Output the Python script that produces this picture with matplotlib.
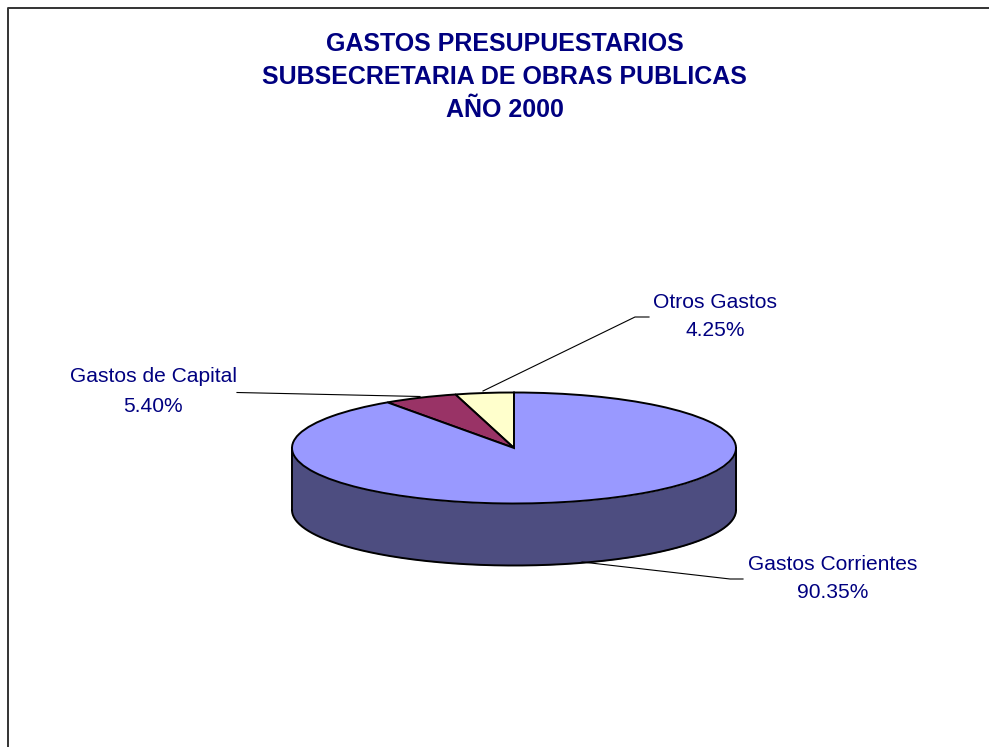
import numpy as np
import matplotlib
matplotlib.use("Agg")
import matplotlib.pyplot as plt

title_lines = ["GASTOS PRESUPUESTARIOS", "SUBSECRETARIA DE OBRAS PUBLICAS", "AÑO 2000"]
categories = ["Otros Gastos", "Gastos de Capital", "Gastos Corrientes"]
values = [4.25, 5.40, 90.35]
labels = ["4.25%", "5.40%", "90.35%"]
colors = ["#FFFFCC", "#993366", "#9999FF"]
wall_color = "#4D4D80"
navy = "#000080"

W, H = 989, 747
plt.rcParams["font.family"] = ["Liberation Sans", "DejaVu Sans"]
fig = plt.figure(figsize=(W / 100, H / 100), dpi=100, facecolor="white")

bg = fig.add_axes([0, 0, 1, 1])
bg.set_xlim(0, W); bg.set_ylim(H, 0); bg.axis("off")
bg.plot([8, 8, 989], [747, 8, 8], color="#333333", lw=1.4)

for txt, y in zip(title_lines, [44, 77, 110]):
    bg.text(504.5, y, txt, ha="center", va="center", fontsize=18, fontweight="bold", color=navy)

for name, pct, (x, y1, y2) in zip(categories, labels, [(715, 302.5, 331), (153, 376.5, 406), (833, 564.5, 592)]):
    bg.text(x, y1, name, ha="center", va="center", fontsize=15.1, color=navy)
    bg.text(x, y2, pct, ha="center", va="center", fontsize=15.1, color=navy)

# Pie axes: ellipse centre (514, 448), rx 222, ry 55.5, wall depth 62 px
rx, ry, depth = 222, 55.5, 62
ax = fig.add_axes([(514 - rx) / W, 1 - (448 + ry + depth) / H, 2 * rx / W, (2 * ry + depth) / H])
ax.set_xlim(-1, 1); ax.set_ylim(-1 - depth / ry, 1); ax.axis("off")
ax.patch.set_alpha(0)

t = np.linspace(np.pi, 2 * np.pi, 300)
xs, ys = np.cos(t), np.sin(t)
ax.fill_between(xs, ys - depth / ry, ys, color=wall_color, lw=0, zorder=1)
ax.plot(xs, ys - depth / ry, color="black", lw=1.4, zorder=2, clip_on=False)
ax.plot([-1, -1], [0, -depth / ry], color="black", lw=1.4, zorder=2, clip_on=False)
ax.plot([1, 1], [0, -depth / ry], color="black", lw=1.4, zorder=2, clip_on=False)

ax.pie(values, colors=colors, startangle=90, counterclock=True, radius=1,
       wedgeprops=dict(edgecolor="black", linewidth=1.4, zorder=3, clip_on=False))
ax.set_aspect("auto")
ax.set_xlim(-1, 1); ax.set_ylim(-1 - depth / ry, 1)

# Leader lines on top of the pie
top = fig.add_axes([0, 0, 1, 1])
top.set_xlim(0, W); top.set_ylim(H, 0); top.axis("off"); top.patch.set_alpha(0)
top.plot([649, 635, 483], [317, 317, 391], color="black", lw=0.8)
top.plot([237, 420], [392.5, 396.5], color="black", lw=0.8)
top.plot([743, 730, 582], [579, 579, 562], color="black", lw=0.8)

fig.savefig("out.png", dpi=100, facecolor="white")
